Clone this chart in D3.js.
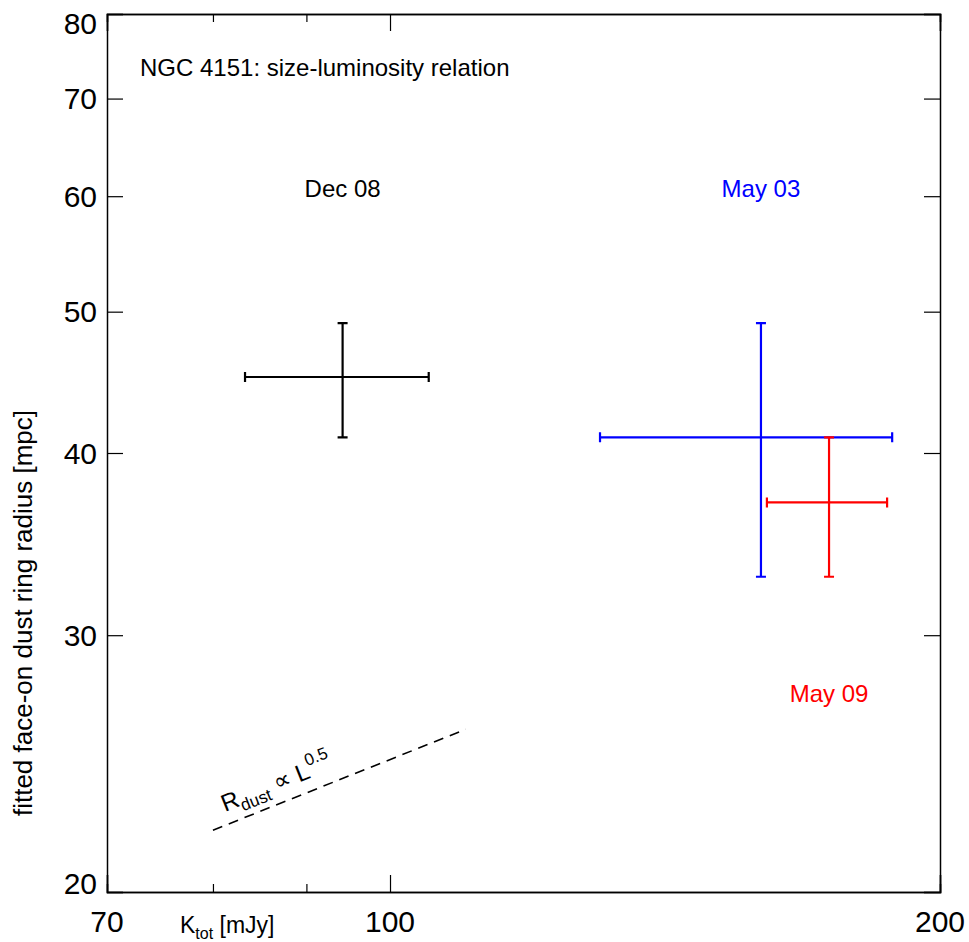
<!DOCTYPE html>
<html>
<head>
<meta charset="utf-8">
<script src="https://cdn.jsdelivr.net/npm/d3@7"></script>
<style>
  body { margin: 0; background: #fff; }
  text { font-family: "Liberation Sans", Arial, sans-serif; }
</style>
</head>
<body>
<div id="chart"></div>
<script>
"use strict"

// Data
const epochs = ["Dec 08", "May 03", "May 09"];
const epochColors = ["#000000", "#0000ff", "#ff0000"];
const kTot = [94.2, 159.6, 173.9];          // mJy
const kLow = [83.3, 130.3, 160.8];
const kHigh = [105.0, 188.3, 187.1];
const radius = [45.1, 41.0, 37.0];          // mpc
const radiusLow = [41.0, 32.9, 32.9];
const radiusHigh = [49.1, 49.1, 41.0];
const labelK = [94.2, 159.6, 173.9];
const labelR = [59.9, 59.9, 27.0];

// R_dust ~ L^0.5 guide line
const guideK = [80, 110];
const guideR = [22.05, 22.05 * Math.sqrt(110 / 80)];

const xMajor = [70, 100, 200];
const xMinor = [80, 90];
const yMajor = [20, 30, 40, 50, 60, 70, 80];

// Figure dimensions
const figWidth = 969;
const figHeight = 942;
const plot = {left: 107, right: 940, top: 14, bottom: 892};

const svg = d3.select("#chart").append("svg")
  .attr("width", figWidth)
  .attr("height", figHeight);

const x = d3.scaleLog().domain([70, 200]).range([plot.left, plot.right]);
const y = d3.scaleLog().domain([20, 80]).range([plot.bottom, plot.top]);

// Axes: ticks drawn inward on all four sides
const majorLen = 17, minorLen = 8;

function tickAxis(axis, vals, len) {
  return axis.tickValues(vals).tickSize(-len).tickFormat("");
}

svg.append("g").attr("transform", `translate(0,${plot.bottom})`)
  .call(tickAxis(d3.axisBottom(x), xMajor, majorLen));
svg.append("g").attr("transform", `translate(0,${plot.bottom})`)
  .call(tickAxis(d3.axisBottom(x), xMinor, minorLen));
svg.append("g").attr("transform", `translate(0,${plot.top})`)
  .call(tickAxis(d3.axisTop(x), xMajor, majorLen));
svg.append("g").attr("transform", `translate(0,${plot.top})`)
  .call(tickAxis(d3.axisTop(x), xMinor, minorLen));
svg.append("g").attr("transform", `translate(${plot.left},0)`)
  .call(tickAxis(d3.axisLeft(y), yMajor, 16));
svg.append("g").attr("transform", `translate(${plot.right},0)`)
  .call(tickAxis(d3.axisRight(y), yMajor, 16));

svg.selectAll(".domain").attr("stroke", "#000").attr("stroke-width", 1.5);
svg.selectAll(".tick line").attr("stroke", "#000").attr("stroke-width", 1.2);

// Tick labels (the end labels are pulled inside, as in the original)
svg.append("g").selectAll("text")
  .data(xMajor)
  .join("text")
    .attr("x", d => x(d))
    .attr("y", 932)
    .attr("text-anchor", "middle")
    .style("font-size", "30px")
    .text(d => d);

svg.append("g").selectAll("text")
  .data(yMajor)
  .join("text")
    .attr("x", 97)
    .attr("y", d => Math.min(Math.max(y(d), plot.top + 9), plot.bottom - 9))
    .attr("dy", "0.35em")
    .attr("text-anchor", "end")
    .style("font-size", "30px")
    .text(d => d);

// Axis titles
const xTitle = svg.append("text")
  .attr("x", 180)
  .attr("y", 933)
  .style("font-size", "23px");
xTitle.append("tspan").text("K");
xTitle.append("tspan").attr("dy", 6).style("font-size", "16px").text("tot");
xTitle.append("tspan").attr("dy", -6).text(" [mJy]");

svg.append("text")
  .attr("transform", "translate(32,613) rotate(-90)")
  .attr("text-anchor", "middle")
  .style("font-size", "26px")
  .text("fitted face-on dust ring radius [mpc]");

svg.append("text")
  .attr("x", 140)
  .attr("y", 76)
  .style("font-size", "24px")
  .text("NGC 4151: size-luminosity relation");

// Error bars
const cap = 5;
const bars = svg.append("g").selectAll("g")
  .data(epochs.map((e, i) => i))
  .join("g")
    .attr("stroke", i => epochColors[i])
    .attr("stroke-width", 2.2)
    .attr("fill", "none");

bars.append("line")
  .attr("x1", i => x(kLow[i])).attr("x2", i => x(kHigh[i]))
  .attr("y1", i => y(radius[i])).attr("y2", i => y(radius[i]));
bars.append("line")
  .attr("x1", i => x(kTot[i])).attr("x2", i => x(kTot[i]))
  .attr("y1", i => y(radiusLow[i])).attr("y2", i => y(radiusHigh[i]));
// caps
bars.append("path")
  .attr("d", i => {
    const xl = x(kLow[i]), xh = x(kHigh[i]), yc = y(radius[i]);
    const xc = x(kTot[i]), yl = y(radiusLow[i]), yh = y(radiusHigh[i]);
    return `M${xl},${yc - cap}V${yc + cap}M${xh},${yc - cap}V${yc + cap}` +
           `M${xc - cap},${yl}H${xc + cap}M${xc - cap},${yh}H${xc + cap}`;
  });

// Epoch labels
svg.append("g").selectAll("text")
  .data(epochs.map((e, i) => i))
  .join("text")
    .attr("x", i => x(labelK[i]))
    .attr("y", i => y(labelR[i]))
    .attr("text-anchor", "middle")
    .attr("fill", i => epochColors[i])
    .style("font-size", "24px")
    .text(i => epochs[i]);

// Guide line R ~ L^0.5
svg.append("line")
  .attr("x1", x(guideK[0])).attr("y1", y(guideR[0]))
  .attr("x2", x(guideK[1])).attr("y2", y(guideR[1]))
  .attr("stroke", "#000")
  .attr("stroke-width", 1.6)
  .attr("stroke-dasharray", "10,7");

const angle = Math.atan2(y(guideR[1]) - y(guideR[0]), x(guideK[1]) - x(guideK[0])) * 180 / Math.PI;
const guideText = svg.append("text")
  .attr("transform", `translate(225,812) rotate(${angle})`)
  .style("font-size", "24px");
guideText.append("tspan").text("R");
guideText.append("tspan").attr("dy", 6).style("font-size", "17px").text("dust");
guideText.append("tspan").attr("dy", -6).text(" \u221D L");
guideText.append("tspan").attr("dy", -12).style("font-size", "17px").text("0.5");
</script>
</body>
</html>
